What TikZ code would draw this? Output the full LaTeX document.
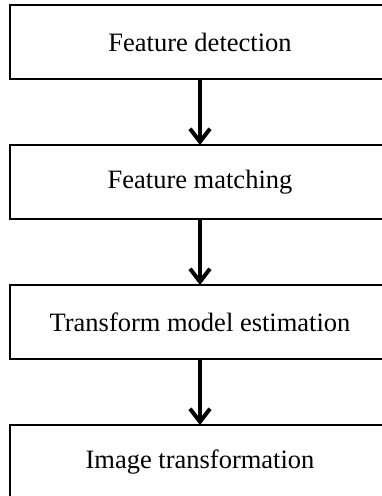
\documentclass[tikz,border=0pt]{standalone}
\usepackage{fontspec}
\setmainfont{Liberation Serif}
\usetikzlibrary{positioning,arrows.meta}
\tikzset{
  stage/.style={draw,line width=2pt,minimum width=380pt,minimum height=74pt,
    inner sep=0pt,outer sep=0pt,font=\fontsize{26.5}{30}\selectfont},
  flow/.style={line width=4pt,-{Straight Barb[length=13pt,width=20pt]}}
}
\begin{document}
\begin{tikzpicture}[x=1pt,y=-1pt,node distance=66pt]
   \useasboundingbox (0,0) rectangle (382,496);
   \clip (0,0) rectangle (382,496);
   \node[stage] (detect) at (200,42) {Feature detection};
   \node[stage,below=of detect] (match) {Feature matching};
   \node[stage,below=of match] (model) {Transform model estimation};
   \node[stage,below=of model] (warp) {Image transformation};
 %
   \draw[flow] (detect) -- (match);
   \draw[flow] (match) -- (model);
   \draw[flow] (model) -- (warp);
\end{tikzpicture}
\end{document}
